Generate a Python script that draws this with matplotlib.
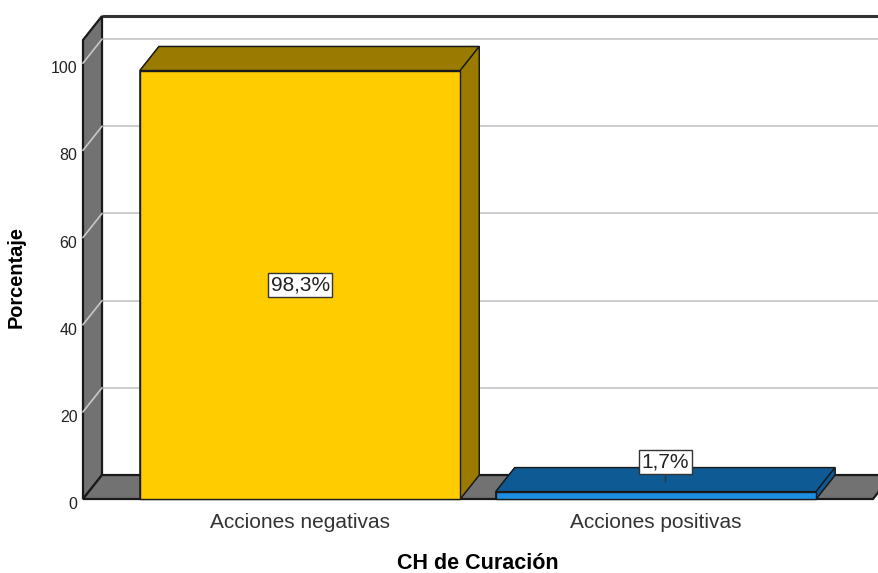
import matplotlib.pyplot as plt
from matplotlib.patches import Polygon
from matplotlib.transforms import ScaledTranslation

plt.rcParams['font.family'] = ['Liberation Sans', 'DejaVu Sans']

# data
categories = ['Acciones negativas', 'Acciones positivas']
percent = [98.3, 1.7]
labels = ['98,3%', '1,7%']
yticks = [0, 20, 40, 60, 80, 100]

front_colors = ['#ffcc00', '#1a8fe3']
dark_colors = ['#9a7b00', '#0d5a94']

# 3D look: depth offset in data units
dx, dy = 0.0534, 5.5
x0, x1 = -0.61, 1.61
ytop = 105.3
width = 0.9

fig = plt.figure(figsize=(8.79, 5.73), dpi=100)
ax = fig.add_axes([83 / 879, 74 / 573, 790 / 879, 459 / 573])
ax.set_xlim(x0, x1)
ax.set_ylim(0, ytop)
for s in ax.spines.values():
    s.set_visible(False)

def poly(pts, fc, z, ec='#1a1a1a', lw=1.0):
    p = Polygon(pts, closed=True, facecolor=fc, edgecolor=ec, linewidth=lw,
                zorder=z, clip_on=False, joinstyle='miter')
    ax.add_patch(p)

# back wall
poly([(x0 + dx, dy), (x1 + dx + 0.2, dy), (x1 + dx + 0.2, ytop + dy), (x0 + dx, ytop + dy)],
     'white', 1, ec='none')
ax.plot([x0 + dx, x1 + 0.2], [ytop + dy, ytop + dy], color='#333333', lw=2.2,
        zorder=2, clip_on=False, solid_capstyle='butt')

# gridlines on back wall and left wall
for v in yticks[1:]:
    ax.plot([x0 + dx, x1 + 0.2], [v + dy, v + dy], color='#c8c8c8', lw=1.3,
            zorder=2, clip_on=False)

# left wall
poly([(x0, 0), (x0, ytop), (x0 + dx, ytop + dy), (x0 + dx, dy)], '#727272', 3, lw=1.6)
for v in yticks[1:]:
    ax.plot([x0, x0 + dx], [v, v + dy], color='#c8c8c8', lw=1.2, zorder=4, clip_on=False)

# floor
poly([(x0, 0), (x1, 0), (x1 + dx, dy), (x0 + dx, dy)], '#727272', 3, lw=1.6)

# bars
for i, val in enumerate(percent):
    l, r = i - width / 2, i + width / 2
    poly([(l, 0), (r, 0), (r + dx, dy), (r + dx, val + dy), (l + dx, val + dy), (l, val)],
         dark_colors[i], 5)
    poly([(l, val), (r, val), (r + dx, val + dy), (l + dx, val + dy)], dark_colors[i], 6)
    poly([(r, 0), (r + dx, dy), (r + dx, val + dy), (r, val)], dark_colors[i], 6)
    poly([(l, 0), (r, 0), (r, val), (l, val)], front_colors[i], 7)

box = dict(boxstyle='square,pad=0.12', facecolor='white', edgecolor='#333333', lw=1)
ax.text(0, percent[0] / 2, labels[0], ha='center', va='center', fontsize=15,
        color='#222222', bbox=box, zorder=10)
ax.plot([1 + dx / 2, 1 + dx / 2], [percent[1] + dy / 2 - 0.3, percent[1] + dy / 2 + 0.8],
        color='#333333', lw=1, zorder=9)
ax.text(1 + dx / 2, percent[1] + dy + 1.3, labels[1], ha='center', va='center', fontsize=15,
        color='#222222', bbox=box, zorder=10)

ax.set_yticks(yticks)
ax.set_yticklabels([str(t) for t in yticks], fontsize=11.5, color='#222222')
ax.set_xticks(range(len(categories)))
ax.set_xticklabels(categories, fontsize=15, color='#333333')
ax.tick_params(axis='y', length=0, pad=4)
ax.tick_params(axis='x', length=0, pad=10)
shift = ScaledTranslation(0, -3 / 72, fig.dpi_scale_trans)
for t in ax.get_yticklabels():
    t.set_transform(t.get_transform() + shift)

ax.set_ylabel('Porcentaje', fontsize=14.4, fontweight='bold')
ax.yaxis.set_label_coords(-0.072, 0.484)
ax.set_xlabel('CH de Curación', fontsize=15.5, fontweight='bold')
ax.xaxis.set_label_coords(0.5, -0.118)

fig.savefig('out.png', dpi=100)
